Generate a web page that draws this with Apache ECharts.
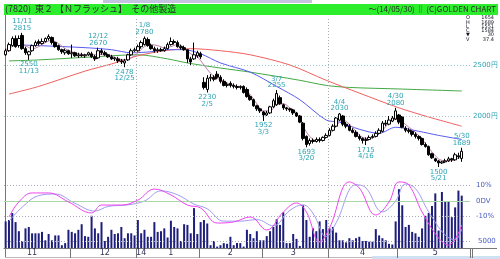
<!DOCTYPE html>
<html><head><meta charset="utf-8">
<script src="https://cdn.jsdelivr.net/npm/echarts@6/dist/echarts.min.js"></script>
<style>html,body{margin:0;padding:0;background:#fff;}#c{width:500px;height:259px;}</style>
</head><body><div id="c"></div>
<script>
// ---- categories (trading days, 2013/11/1 - 2014/5/30) ----
const dates = ['11/1','11/5','11/6','11/7','11/8','11/11','11/12','11/13','11/14','11/15','11/18','11/19','11/20','11/21','11/22','11/25','11/26','11/27','11/28','11/29',
'12/2','12/3','12/4','12/5','12/6','12/9','12/10','12/11','12/12','12/13','12/16','12/17','12/18','12/19','12/20','12/24','12/25','12/26','12/27','12/30',
'1/6','1/7','1/8','1/9','1/10','1/14','1/15','1/16','1/17','1/20','1/21','1/22','1/23','1/24','1/27','1/28','1/29','1/30','1/31',
'2/3','2/4','2/5','2/6','2/7','2/10','2/12','2/13','2/14','2/17','2/18','2/19','2/20','2/21','2/24','2/25','2/26','2/27','2/28',
'3/3','3/4','3/5','3/6','3/7','3/10','3/11','3/12','3/13','3/14','3/17','3/18','3/19','3/20','3/24','3/25','3/26','3/27','3/28','3/31',
'4/1','4/2','4/3','4/4','4/7','4/8','4/9','4/10','4/11','4/14','4/15','4/16','4/17','4/18','4/21','4/22','4/23','4/24','4/25','4/28','4/30',
'5/1','5/2','5/7','5/8','5/9','5/12','5/13','5/14','5/15','5/16','5/19','5/20','5/21','5/22','5/23','5/26','5/27','5/28','5/29','5/30'];
const padCats = [' ', '  '];

// ---- OHLC ----
const opens = [2600,2640,2690,2760,2690,2790,2660,2600,2640,2690,2730,2710,2730,2760,2770,2720,2690,2650,2620,2640,
2610,2620,2590,2600,2590,2600,2610,2580,2570,2640,2620,2600,2580,2560,2560,2540,2520,2550,2600,2640,
2640,2680,2700,2750,2690,2660,2640,2650,2640,2660,2700,2730,2720,2680,2670,2650,2560,2560,2590,
2610,2330,2260,2370,2380,2410,2380,2340,2300,2320,2300,2290,2280,2290,2260,2190,2160,2100,2070,
2040,2010,2030,2090,2110,2180,2110,2080,2070,2060,2030,2000,1930,1800,1730,1760,1750,1770,1760,1790,
1810,1860,1900,1960,2000,1920,1900,1860,1840,1800,1780,1760,1770,1790,1800,1830,1850,1930,1920,1950,1970,
2010,1990,1880,1860,1850,1820,1800,1780,1720,1700,1630,1580,1560,1540,1550,1560,1580,1570,1610,1584];
const closes = [2640,2700,2760,2680,2760,2660,2620,2630,2690,2720,2710,2730,2760,2780,2720,2680,2650,2630,2640,2610,
2620,2590,2600,2590,2600,2620,2580,2560,2640,2620,2600,2580,2560,2570,2540,2530,2540,2600,2640,2650,
2680,2720,2760,2690,2660,2640,2650,2640,2660,2700,2730,2720,2680,2670,2650,2560,2530,2600,2620,
2580,2280,2370,2380,2360,2380,2340,2300,2310,2300,2290,2280,2290,2230,2190,2160,2100,2070,2050,
2010,2030,2090,2150,2220,2120,2080,2070,2060,2030,2000,1940,1780,1720,1760,1750,1770,1760,1790,1810,
1860,1900,1980,2020,1920,1900,1860,1840,1800,1780,1760,1770,1790,1800,1830,1860,1930,1920,1960,1980,2050,
1940,1890,1860,1850,1820,1800,1780,1720,1700,1620,1590,1560,1540,1550,1560,1580,1570,1620,1600,1654];
const lows = [2590,2630,2680,2670,2670,2650,2600,2550,2630,2680,2690,2700,2720,2740,2700,2670,2640,2610,2600,2600,
2570,2580,2570,2580,2570,2590,2570,2540,2560,2600,2590,2570,2550,2540,2520,2510,2478,2540,2590,2630,
2630,2660,2690,2680,2650,2620,2620,2630,2630,2650,2690,2700,2670,2650,2640,2520,2500,2550,2570,
2560,2260,2230,2340,2340,2360,2320,2290,2280,2280,2270,2260,2260,2220,2180,2150,2090,2050,2030,
1952,2000,2020,2080,2100,2110,2060,2050,2040,2010,1990,1930,1760,1693,1710,1730,1740,1740,1750,1780,
1800,1850,1890,1950,1900,1880,1850,1830,1790,1760,1730,1715,1760,1780,1790,1820,1840,1900,1910,1940,1960,
1920,1880,1840,1830,1800,1780,1760,1710,1690,1610,1580,1550,1500,1530,1540,1550,1550,1560,1580,1551];
const highs = [2660,2720,2780,2790,2790,2815,2680,2640,2700,2740,2750,2760,2770,2800,2780,2730,2700,2660,2660,2650,
2700,2630,2620,2620,2610,2630,2630,2600,2670,2660,2640,2610,2600,2580,2580,2560,2560,2610,2660,2670,
2700,2740,2780,2770,2710,2680,2670,2670,2680,2720,2770,2750,2740,2700,2690,2650,2580,2720,2640,
2630,2380,2400,2410,2400,2440,2400,2360,2330,2340,2320,2310,2300,2300,2280,2210,2170,2110,2080,
2050,2050,2100,2170,2255,2200,2120,2090,2080,2070,2040,2010,1940,1810,1780,1780,1790,1790,1800,1830,
1880,1920,1990,2030,2010,1940,1920,1880,1860,1820,1790,1790,1810,1820,1850,1880,1950,1960,2000,2000,2080,
2020,2000,1900,1880,1860,1840,1810,1790,1740,1710,1640,1590,1570,1560,1580,1600,1590,1640,1640,1689];

// ---- volume (thousand shares) ----
const volumes = [19,20,25,18.5,12,5,14,15,10.5,10.5,10.5,11.5,5.5,10,5.5,9,9,2,3.5,13,
11.5,10.5,13,17,8.5,8,23,14,10.5,18.5,5,8,13,10,10.5,15,7,10.5,10.5,9,
20,10.5,13,8,8,18.5,11.5,12,14,7.5,19.5,15,14,5,17,16.5,10.5,28.5,10,
18.5,20,17.5,2,5,1,2,3.5,3,8,2,3.5,3.5,1,13,10,7,12,5.5,
5.5,8.5,12,15,20.5,16.5,25.5,3.5,3.5,10,6.5,1.5,30.5,20,8,14,12,19,13.5,20,
14,15,11,5.5,5.5,4,7,5.5,7,8,5,5,4.5,4.5,13.5,9,7,5.5,3,2.5,19,
42,30.5,15,16.5,11.5,10.5,8,14,23,25,30,39,12.5,40,33,33,22,29,41,37.4];

// ---- moving averages [dayIndex, price] ----
const maShort = [[0,2650],[2,2680],[4,2710],[6,2690],[8,2660],[10,2680],[12,2720],[14,2740],[16,2710],[18,2660],[20,2630],[22,2610],[24,2600],[26,2600],[28,2600],[30,2610],[32,2590],[34,2560],[36,2550],[38,2570],[40,2620],[42,2680],[44,2700],[46,2690],[48,2670],[50,2680],[52,2700],[54,2670],[56,2610],[58,2580],[60,2500],[62,2420],[64,2370],[66,2340],[68,2310],[70,2290],[72,2270],[74,2210],[76,2120],[78,2050],[80,2050],[82,2110],[84,2120],[86,2080],[88,2030],[90,1900],[92,1800],[94,1760],[96,1770],[98,1820],[100,1900],[102,1960],[104,1920],[106,1850],[108,1790],[110,1780],[112,1800],[114,1860],[116,1930],[118,1970],[120,1940],[122,1890],[124,1840],[126,1770],[128,1690],[130,1610],[132,1565],[134,1560],[136,1575],[138,1600]];
const maMid = [[1,2700],[10,2690],[24,2670],[32,2650],[38,2620],[44,2630],[48,2650],[54,2650],[59,2610],[65,2520],[74,2430],[82,2290],[89,2160],[97,1960],[101,1940],[107,1870],[113,1830],[118,1890],[125,1850],[131,1810],[138,1770]];
const maLong = [[1,2215],[10,2290],[24,2440],[32,2510],[40,2590],[48,2640],[56,2660],[65,2640],[74,2600],[86,2500],[97,2350],[107,2225],[119,2080],[128,1990],[138,1900]];
const maLonger = [[1,2540],[10,2550],[24,2575],[40,2600],[49,2560],[55,2520],[65,2470],[74,2430],[89,2350],[97,2300],[104,2280],[119,2265],[138,2245]];

// ---- oscillator (%) [dayIndex, value] ----
const oscA = [[1,-10.3],[4,-0.6],[8,5.2],[13,5.2],[19,-0.6],[26,-7.7],[29,-2.6],[35,-2.6],[40,0.6],[45,7.7],[50,3.9],[55,-2.6],[59,-4.5],[64,-14.2],[69,-13.5],[74,-10.3],[79,-18.7],[84,-7.1],[88,-1.3],[91,-7.1],[95,-26.5],[98,-17.4],[104,12.3],[107,8.4],[112,-9],[116,-0.6],[119,12.3],[122,10.3],[126,-7.1],[131,-23.9],[134,-28.4],[138,-15.5]];
const oscB = [[1,-13],[5,-4],[10,3.5],[15,4.5],[21,-1.5],[27,-6.5],[31,-3.5],[37,-2.5],[42,0],[47,6.5],[52,4],[57,-2],[61,-5],[66,-13],[71,-13],[76,-12],[81,-16],[86,-6],[90,-2.5],[93,-8],[97,-23],[100,-14],[106,10.5],[109,8.5],[114,-7],[118,0],[121,11],[124,8],[128,-7],[133,-22],[136,-25],[138,-18]];

// ---- annotations ----
const annotDates  = ['11/11','11/13','12/12','12/25','1/8','2/5','3/3','3/7','3/20','4/4','4/16','4/30','5/21','5/30'];
const annotValues = [2815,2550,2670,2478,2780,2230,1952,2255,1693,2030,1715,2080,1500,1689];
const annotIsHigh = [true,false,true,false,true,false,false,true,false,true,false,true,false,true];

// ---- axis labels ----
const monthLabels = ['11','12','14','1','2','3','4','5'];
const monthLabelDates = ['11/14','12/16','1/7','1/21','2/17','3/14','4/15','5/20'];
const monthStartDates = ['12/2','1/6','2/3','3/3','4/1','5/1'];
const dividerDates = ['1/6','4/1'];
const priceGrid = [2500, 2000];
const oscGrid = [10, 0, -10];
const oscGridLabels = ['10%', '0DV', '-10%'];
const volGrid = [5];
const volGridLabels = ['5000'];
const infoLabels = ['O','H','L','C','▼','V'];
const infoValues = ['1654','1689','1551','1584','30','37.4'];

const cats = dates.concat(padCats);
const candle = dates.map((d, i) => [opens[i], closes[i], lows[i], highs[i]]);

const teal = '#2ea3b3';
const G = {left: 4, width: 466};

const chart = echarts.init(document.getElementById('c'), null, {renderer: 'canvas'});

const infoGraphics = [];
infoLabels.forEach((l, i) => {
  infoGraphics.push({type: 'text', left: 466, top: 15.5 + i * 4.3, style: {text: l, font: '5px "DejaVu Sans"', fill: '#112'}});
  infoGraphics.push({type: 'text', right: 6, top: 15.5 + i * 4.3, style: {text: infoValues[i], font: '5px "DejaVu Sans"', fill: '#112', textAlign: 'right'}});
});

chart.setOption({
  animation: false,
  backgroundColor: '#fff',
  grid: [
    {left: G.left, width: G.width, top: 17, height: 231},
    {left: G.left, width: G.width, top: 170, height: 78},
    {left: G.left, width: G.width, top: 170, height: 78},
    {left: G.left, width: G.width, top: 17, height: 231}
  ],
  xAxis: [
    {type: 'category', gridIndex: 0, data: cats, boundaryGap: true,
      axisLine: {show: true, lineStyle: {color: '#777', width: 1}},
      axisTick: {show: true, interval: (i, v) => monthStartDates.includes(v), length: 10, lineStyle: {color: '#777'}},
      axisLabel: {show: true, interval: (i, v) => monthLabelDates.includes(v),
        formatter: v => { const k = monthLabelDates.indexOf(v); return k >= 0 ? monthLabels[k] : ''; },
        fontSize: 8, color: '#335', margin: 1, fontFamily: 'DejaVu Sans'},
      splitLine: {show: false}},
    {type: 'category', gridIndex: 1, data: cats, show: false},
    {type: 'category', gridIndex: 2, data: cats, show: false},
    {type: 'value', gridIndex: 3, min: 0, max: cats.length, show: false}
  ],
  yAxis: [
    {type: 'value', gridIndex: 0, min: 705.9, max: 2970.6, show: false, splitLine: {show: false}},
    {type: 'value', gridIndex: 1, min: -30.32, max: 20, show: false, splitLine: {show: false}},
    {type: 'value', gridIndex: 2, min: 0, max: 55.7, show: false, splitLine: {show: false}},
    {type: 'value', gridIndex: 3, min: 0, max: 1, show: false}
  ],
  series: [
    {type: 'bar', xAxisIndex: 2, yAxisIndex: 2, data: volumes, barWidth: 2, z: 2,
      itemStyle: {color: '#1e1e7c'},
      markLine: {silent: true, symbol: 'none', animation: false,
        lineStyle: {color: '#aab', type: [1, 2], width: 1},
        label: {position: 'end', distance: 8, fontSize: 7, color: '#4a5cc0', fontFamily: 'DejaVu Sans', formatter: p => volGridLabels[volGrid.indexOf(p.value)]},
        data: volGrid.map(v => ({yAxis: v}))}},
    {type: 'line', xAxisIndex: 1, yAxisIndex: 1, data: oscB, symbol: 'none', smooth: 0.4, z: 4,
      lineStyle: {color: '#a09cf0', width: 1},
      markLine: {silent: true, symbol: 'none', animation: false,
        label: {position: 'end', distance: 6, fontSize: 7, color: '#4a5cc0', fontFamily: 'DejaVu Sans', formatter: p => oscGridLabels[oscGrid.indexOf(p.value)]},
        data: oscGrid.map(v => ({yAxis: v, lineStyle: v === 0 ? {color: '#a8d8a8', type: 'solid', width: 1} : {color: '#aab', type: [1, 2], width: 1}}))}},
    {type: 'line', xAxisIndex: 1, yAxisIndex: 1, data: oscA, symbol: 'none', smooth: 0.4, z: 5,
      lineStyle: {color: '#ee44ee', width: 1}},
    {type: 'line', xAxisIndex: 3, yAxisIndex: 3, data: [], symbol: 'none',
      markLine: {silent: true, symbol: 'none', animation: false, label: {show: false},
        lineStyle: {color: '#aaa', type: [1, 2], width: 1},
        data: dividerDates.map(d => ({xAxis: dates.indexOf(d)}))}},
    {type: 'line', data: maLonger, symbol: 'none', smooth: 0.3, z: 3, lineStyle: {color: '#44a844', width: 1}},
    {type: 'line', data: maLong, symbol: 'none', smooth: 0.3, z: 3, lineStyle: {color: '#f06060', width: 1}},
    {type: 'line', data: maMid, symbol: 'none', smooth: 0.3, z: 3, lineStyle: {color: '#5a5af0', width: 1}},
    {type: 'line', data: maShort, symbol: 'none', smooth: 0.4, z: 3, lineStyle: {color: '#c07aa8', width: 1}},
    {type: 'candlestick', data: candle, barWidth: 3, z: 6,
      itemStyle: {color: '#fff', color0: '#000', borderColor: '#000', borderColor0: '#000', borderWidth: 1},
      markLine: {silent: true, symbol: 'none', animation: false,
        lineStyle: {color: '#9cc8cc', type: [1, 2], width: 1},
        label: {position: 'end', distance: 3, fontSize: 7, color: teal, fontFamily: 'DejaVu Sans', formatter: p => p.value + '円'},
        data: priceGrid.map(v => ({yAxis: v}))},
      markPoint: {silent: true, animation: false, symbol: 'circle', symbolSize: 1,
        itemStyle: {color: 'rgba(0,0,0,0)'},
        data: annotDates.map((d, k) => ({
          coord: [d, annotValues[k]],
          label: {show: true, position: annotIsHigh[k] ? 'top' : 'bottom', distance: 1,
            formatter: annotIsHigh[k] ? d + '\n' + annotValues[k] : annotValues[k] + '\n' + d,
            fontSize: 7, lineHeight: 6.5, color: teal, fontFamily: 'DejaVu Sans', align: 'center'}
        }))}}
  ],
  graphic: [
    {type: 'rect', shape: {x: 103, y: 0, width: 209, height: 3}, style: {fill: '#c4c4e0'}},
    {type: 'rect', shape: {x: 372, y: 256, width: 128, height: 3}, style: {fill: '#cfe0f2'}},
    {type: 'rect', shape: {x: 4, y: 4, width: 494, height: 11}, style: {fill: '#2cee2c'}},
    {type: 'text', left: 5, top: 4.5, style: {text: '(7820)  東２ 【Ｎフラッシュ】  その他製造', font: '9px "Noto Sans CJK JP"', fill: '#2a2a2a'}},
    {type: 'text', right: 4, top: 5, style: {text: '〜(14/05/30) ‖ (C)GOLDEN CHART', font: '8px "Noto Sans CJK JP"', fill: '#2a2a2a', textAlign: 'right'}},
    {type: 'line', shape: {x1: 5.5, y1: 15, x2: 5.5, y2: 258}, style: {stroke: '#777', lineWidth: 1}},
    {type: 'line', shape: {x1: 470, y1: 248.5, x2: 497, y2: 248.5}, style: {stroke: '#777', lineWidth: 1}},
    {type: 'line', shape: {x1: 472.5, y1: 248, x2: 472.5, y2: 258}, style: {stroke: '#777', lineWidth: 1}},
    {type: 'line', shape: {x1: 5, y1: 257.5, x2: 372, y2: 257.5}, style: {stroke: '#bbb', lineWidth: 1}}
  ].concat(infoGraphics)
});
</script></body></html>
